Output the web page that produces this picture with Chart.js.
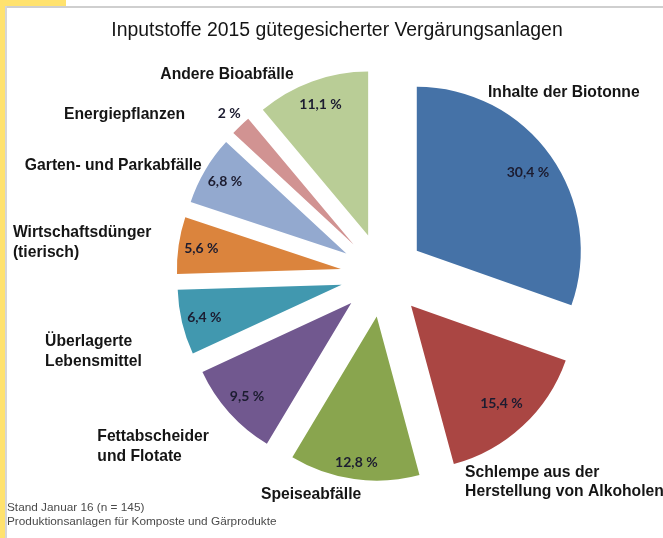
<!DOCTYPE html>
<html>
<head>
<meta charset="utf-8">
<script src="https://cdn.jsdelivr.net/npm/chart.js@4/dist/chart.umd.min.js"></script>
<style>
  html, body { margin: 0; padding: 0; background: #fff; }
  #wrap { position: relative; width: 663px; height: 538px; overflow: hidden; background: #fff; }
  .yl-top { position: absolute; left: 0; top: 0; width: 66px; height: 6px; background: #FFE26E; }
  .yl-left { position: absolute; left: 0; top: 0; width: 5px; height: 538px; background: #FFE26E; }
  .bd-top { position: absolute; left: 5px; top: 6px; right: 0; height: 2px; background: #cfcfcf; }
  .bd-left { position: absolute; left: 5px; top: 6px; width: 2px; bottom: 0; background: #d6d6d6; }
  #chartBox { position: absolute; left: 0; top: 0; width: 663px; height: 538px; }
  #title { position: absolute; left: 0; width: 674px; top: 18px; text-align: center;
           font-family: "Liberation Sans", Arial, sans-serif; font-size: 19.4px; color: #151515; white-space: nowrap; }
  #foot { position: absolute; left: 7px; top: 500px; font-family: "Liberation Sans", Arial, sans-serif;
          font-size: 11.8px; line-height: 14px; color: #4a4a4a; white-space: nowrap; }
</style>
</head>
<body>
<div id="wrap">
  <div class="yl-top"></div>
  <div class="yl-left"></div>
  <div class="bd-top"></div>
  <div class="bd-left"></div>
  <div id="chartBox"><canvas id="c"></canvas></div>
  <div id="title">Inputstoffe 2015 gütegesicherter Vergärungsanlagen</div>
  <div id="foot">Stand Januar 16 (n = 145)<br>Produktionsanlagen für Komposte und Gärprodukte</div>
</div>
<script>
// ---- data ----
const categories = [
  ["Inhalte der Biotonne"],
  ["Schlempe aus der", "Herstellung von Alkoholen"],
  ["Speiseabfälle"],
  ["Fettabscheider", "und Flotate"],
  ["Überlagerte", "Lebensmittel"],
  ["Wirtschaftsdünger", "(tierisch)"],
  ["Garten- und Parkabfälle"],
  ["Energiepflanzen"],
  ["Andere Bioabfälle"]
];
const shares = [30.4, 15.4, 12.8, 9.5, 6.4, 5.6, 6.8, 2, 11.1];

// ---- styles ----
const colors = ["#4572A7", "#AA4643", "#89A54E", "#71588F", "#4198AF", "#DB843D", "#93A9CF", "#D19392", "#B9CD96"];
const EXPLODE = 42;
// percentage label distance from slice apex (fraction of radius)
const pctRadius = [0.83, 0.81, 0.9, 0.855, 0.86, 0.86, 0.86, 1.10, 0.85];
// category label placement: angle (deg, clockwise from top) and distance (px) from pie centre
const labelLayout = [
  {ang: 30.0, dist: 211, align: "left"},
  {ang: 157.3, dist: 214, align: "left"},
  {ang: 198.0, dist: 231, align: "center"},
  {ang: 240.4, dist: 328, align: "left"},
  {ang: 258.8, dist: 344, align: "left"},
  {ang: 276.5, dist: 372, align: "left"},
  {ang: 301.1, dist: 211, align: "right"},
  {ang: 309.0, dist: 254, align: "right"},
  {ang: 312.0, dist: 299, align: "left"}
];

// ---- exploded pie built on Chart.js arc element ----
class ExplodedArc extends Chart.ArcElement {
  draw(ctx) {
    const mid = (this.startAngle + this.endAngle) / 2;
    ctx.save();
    ctx.translate(Math.cos(mid) * EXPLODE, Math.sin(mid) * EXPLODE);
    super.draw(ctx);
    ctx.restore();
  }
}
ExplodedArc.id = "explodedArc";

class ExplodedPieController extends Chart.PieController {}
ExplodedPieController.id = "explodedPie";
ExplodedPieController.defaults = { dataElementType: "explodedArc" };

Chart.register(ExplodedArc, ExplodedPieController);

const labelPlugin = {
  id: "sliceLabels",
  afterDatasetsDraw(chart) {
    const ctx = chart.ctx;
    const meta = chart.getDatasetMeta(0);
    ctx.save();
    meta.data.forEach((arc, i) => {
      const mid = (arc.startAngle + arc.endAngle) / 2;
      const ax = arc.x + Math.cos(mid) * EXPLODE;
      const ay = arc.y + Math.sin(mid) * EXPLODE;
      const r = arc.outerRadius * pctRadius[i];
      ctx.font = "bold 14px Lato, 'Liberation Sans', sans-serif";
      ctx.fillStyle = "#1c1c30";
      ctx.textAlign = "center";
      ctx.textBaseline = "middle";
      const txt = String(shares[i]).replace(".", ",") + " %";
      ctx.fillText(txt, ax + Math.cos(mid) * r, ay + Math.sin(mid) * r);

      const L = labelLayout[i];
      const a = (L.ang - 90) * Math.PI / 180;
      const lx = arc.x + Math.cos(a) * L.dist;
      const ly = arc.y + Math.sin(a) * L.dist;
      ctx.font = "bold 15.7px 'Liberation Sans', Arial, sans-serif";
      ctx.fillStyle = "#151515";
      ctx.textAlign = L.align;
      categories[i].forEach((line, j) => ctx.fillText(line, lx, ly + j * 19.5));
    });
    ctx.restore();
  }
};

new Chart(document.getElementById("c"), {
  type: "explodedPie",
  data: {
    labels: categories.map(c => c.join(" ")),
    datasets: [{
      data: shares,
      backgroundColor: colors,
      borderWidth: 0,
      clip: false
    }]
  },
  options: {
    responsive: true,
    maintainAspectRatio: false,
    animation: false,
    events: [],
    layout: { padding: { left: 218, right: 116, top: 111, bottom: 99 } },
    plugins: {
      legend: { display: false },
      tooltip: { enabled: false },
      title: { display: false }
    }
  },
  plugins: [labelPlugin]
});
</script>
</body>
</html>
